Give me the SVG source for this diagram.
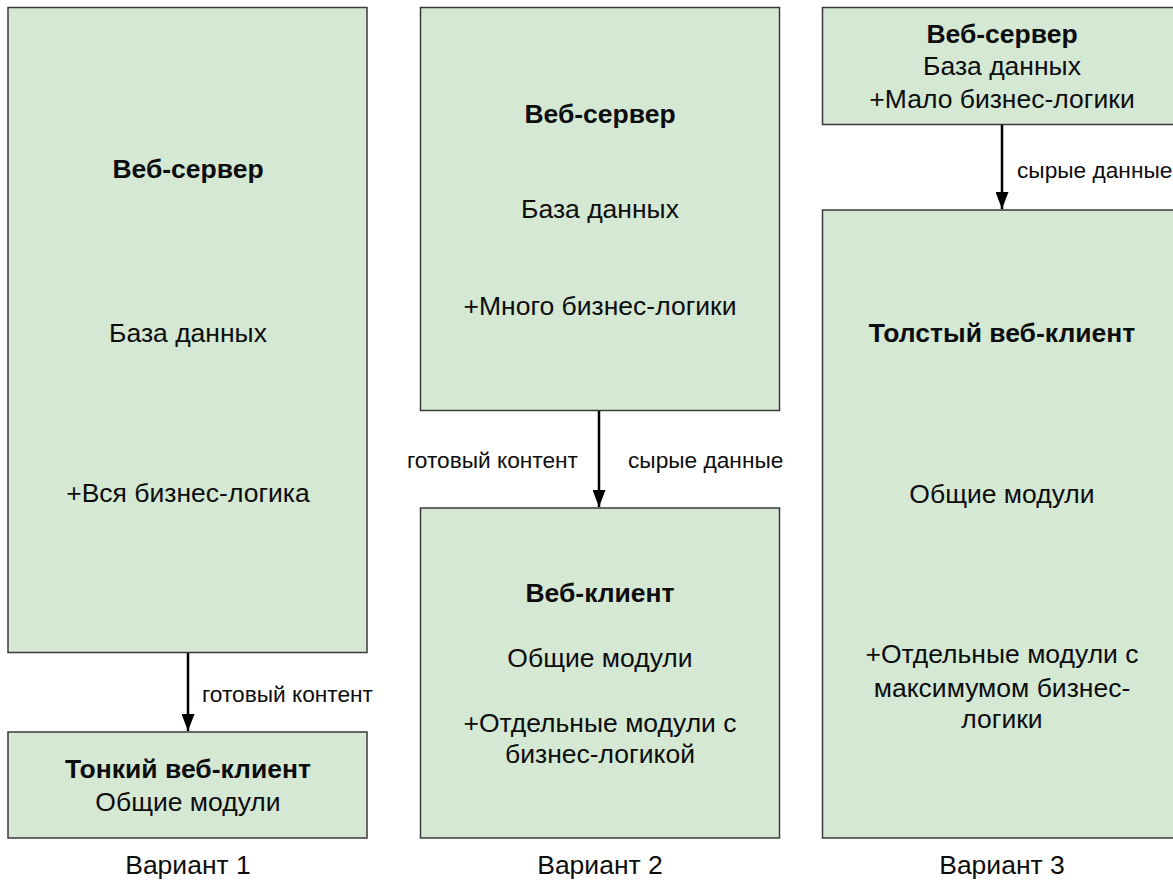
<svg xmlns="http://www.w3.org/2000/svg" width="1173" height="881" viewBox="0 0 1173 881">
<style>
.box{fill:#d4e8d4;stroke:#3a3a3a;stroke-width:1.5}
text{font-family:"Liberation Sans",Arial,sans-serif;fill:#0d0d0d;text-anchor:middle}
.t{font-size:26.5px}
.b{font-size:26.5px;font-weight:bold}
.l{font-size:22.7px;text-anchor:start}
.le{font-size:22.7px;text-anchor:end}
.edge{stroke:#000;stroke-width:2.5;fill:none}
</style>
<defs>
<marker id="ah" viewBox="0 0 17 13" refX="17" refY="6.5" markerWidth="17" markerHeight="13" markerUnits="userSpaceOnUse" orient="auto">
<path d="M0,0 L17,6.5 L0,13 z" fill="#000"/>
</marker>
</defs>
<rect width="1173" height="881" fill="#fff"/>
<g id="server1">
<rect class="box" x="8" y="7.5" width="359" height="645"/>
<text class="b" x="188" y="178">Веб-сервер</text>
<text class="t" x="188" y="342">База данных</text>
<text class="t" x="188" y="502">+Вся бизнес-логика</text>
</g>
<g id="client1">
<rect class="box" x="8" y="732" width="359" height="106"/>
<text class="b" x="188" y="778">Тонкий веб-клиент</text>
<text class="t" x="188" y="811">Общие модули</text>
</g>
<g id="server2">
<rect class="box" x="420.5" y="7.5" width="359" height="403"/>
<text class="b" x="600" y="123">Веб-сервер</text>
<text class="t" x="600" y="218">База данных</text>
<text class="t" x="600" y="315">+Много бизнес-логики</text>
</g>
<g id="client2">
<rect class="box" x="420.5" y="508" width="359" height="330"/>
<text class="b" x="600" y="602">Веб-клиент</text>
<text class="t" x="600" y="667">Общие модули</text>
<text class="t" x="600" y="732">+Отдельные модули с</text>
<text class="t" x="600" y="763">бизнес-логикой</text>
</g>
<g id="server3">
<rect class="box" x="822.5" y="7.5" width="360" height="117"/>
<text class="b" x="1002" y="43">Веб-сервер</text>
<text class="t" x="1002" y="75">База данных</text>
<text class="t" x="1002" y="108">+Мало бизнес-логики</text>
</g>
<g id="client3">
<rect class="box" x="822.5" y="210" width="360" height="628"/>
<text class="b" x="1002" y="342">Толстый веб-клиент</text>
<text class="t" x="1002" y="503">Общие модули</text>
<text class="t" x="1002" y="663">+Отдельные модули с</text>
<text class="t" x="1002" y="697">максимумом бизнес-</text>
<text class="t" x="1002" y="728">логики</text>
</g>
<g id="connectors">
<line class="edge" x1="188" y1="653" x2="188" y2="731" marker-end="url(#ah)"/>
<text class="l" x="202" y="702">готовый контент</text>
<line class="edge" x1="599" y1="411" x2="599" y2="507" marker-end="url(#ah)"/>
<text class="le" x="578" y="468">готовый контент</text>
<text class="l" x="628" y="468">сырые данные</text>
<line class="edge" x1="1002" y1="125" x2="1002" y2="209" marker-end="url(#ah)"/>
<text class="l" x="1017" y="178">сырые данные</text>
</g>
<g id="captions">
<text class="t" x="188" y="874">Вариант 1</text>
<text class="t" x="600" y="874">Вариант 2</text>
<text class="t" x="1002" y="874">Вариант 3</text>
</g>
</svg>
